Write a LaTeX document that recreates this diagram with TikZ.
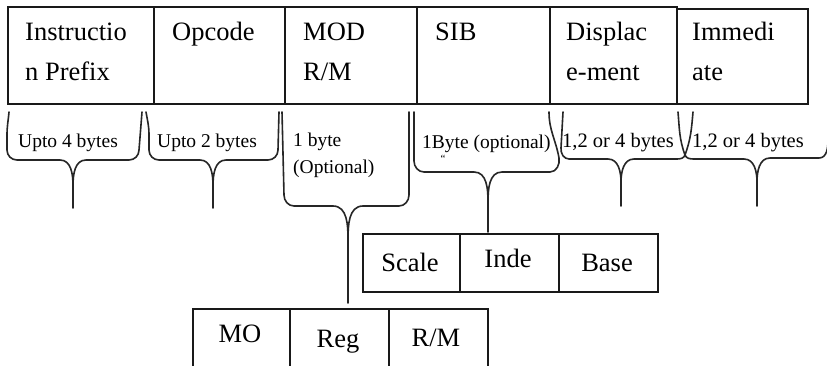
\documentclass[tikz,border=0pt]{standalone}
\usepackage{fontspec}
\setmainfont{Liberation Serif}
\begin{document}
\begin{tikzpicture}[x=1pt,y=-1pt,
  cell/.style={draw=black!90,line width=1.6pt,anchor=north west,inner sep=0pt,minimum height=#1},
  big/.style={font=\fontsize{26.5}{30}\selectfont,anchor=base west,inner sep=0pt},
  bigc/.style={font=\fontsize{26.5}{30}\selectfont,anchor=base,inner sep=0pt},
  small/.style={font=\fontsize{19.5}{22}\selectfont,anchor=base west,inner sep=0pt},
  brace/.style={draw=black!85,line width=1.6pt,line join=round,line cap=round}]
\path[use as bounding box] (0,0) rectangle (827,365);
\clip (0,0) rectangle (827,365);
\fill[white] (0,0) rectangle (827,365);

% top row
\node[cell=97pt,minimum width=146pt] (c1) at (7,6) {};
\node[cell=97pt,minimum width=131pt] (c2) at (153,6) {};
\node[cell=97pt,minimum width=132pt] (c3) at (284,6) {};
\node[cell=97pt,minimum width=133pt] (c4) at (416,6) {};
\node[cell=97pt,minimum width=127pt] (c5) at (549,6) {};
\node[cell=95pt,minimum width=131pt] (c6) at (676,8) {};

\node[big] (t1a) at (25,40) {Instructio};
\node[big] (t1b) at (25,80) {n Prefix};
\node[big] (t2) at (172,40) {Opcode};
\node[big] (t3a) at (303,40) {MOD};
\node[big] (t3b) at (303,80) {R/M};
\node[big] (t4) at (435,40) {SIB};
\node[big] (t5a) at (566,40) {Displac};
\node[big] (t5b) at (566,80) {e-ment};
\node[big] (t6a) at (692,40) {Immedi};
\node[big] (t6b) at (692,80) {ate};

% braces
% 1
\draw[brace] (9,112) to[out=-95,in=90] (7,135) -- (7,150) to[out=-90,in=180] (17,160) -- (60,160) to[out=0,in=90] (73,186) -- (73,208);
\draw[brace] (142,112) -- (139,150) to[out=-90,in=0] (129,160) -- (86,160) to[out=180,in=90] (73,186);
% 2
\draw[brace] (146,112) to[out=-80,in=90] (149,135) -- (149,150) to[out=-90,in=180] (159,160) -- (200,160) to[out=0,in=90] (213,186) -- (213,208);
\draw[brace] (279,112) -- (278,150) to[out=-90,in=0] (268,160) -- (226,160) to[out=180,in=90] (213,186);
% 3 MOD
\draw[brace] (282,112) -- (284,195) to[out=-90,in=180] (294,206) -- (333,206) to[out=0,in=90] (348,240) -- (348,303);
\draw[brace] (409,112) -- (409,195) to[out=-90,in=0] (399,206) -- (363,206) to[out=180,in=90] (348,240);
% 4 SIB
\draw[brace] (414,112) -- (414,161) to[out=-90,in=180] (424,172) -- (474,172) to[out=0,in=90] (488,202) -- (488,232);
\draw[brace] (549,112) to[out=-90,in=100] (559,158) to[out=-80,in=0] (550,172) -- (502,172) to[out=180,in=90] (488,202);
% 5 Displacement
\draw[brace] (563,112) -- (561,148) to[out=-95,in=180] (569,159) -- (608,159) to[out=0,in=90] (621,182) -- (621,206);
\draw[brace] (678,112) to[out=-85,in=110] (685,155) to[out=-110,in=0] (677,159) -- (634,159) to[out=180,in=90] (621,182);
% 6 Immediate
\draw[brace] (693,112) to[out=-95,in=70] (685,155) to[out=-70,in=180] (694,159) -- (744,159) to[out=0,in=90] (757,182) -- (757,206);
\draw[brace] (830,112) -- (828,140) to[out=-90,in=0] (819,158) -- (770,158) to[out=180,in=90] (757,182);

% brace labels
\node[small] (l1) at (18,147) {Upto 4 bytes};
\node[small] (l2) at (157,147) {Upto 2 bytes};
\node[small] (l3a) at (293,146) {1 byte};
\node[small] (l3b) at (293,173) {(Optional)};
\node[small] (l4) at (422,148) {1Byte (optional)};
\node[font=\fontsize{11}{11}\selectfont,inner sep=0pt] (l4m) at (443,159) {``};
\node[small,font=\fontsize{20.5}{22}\selectfont] (l5) at (562,147) {1,2 or 4 bytes};
\node[small,font=\fontsize{20.5}{22}\selectfont] (l6) at (692,147) {1,2 or 4 bytes};

% SIB detail row
\node[cell=58pt,minimum width=97pt] (s1) at (362,233) {};
\node[cell=58pt,minimum width=99pt] (s2) at (459,233) {};
\node[cell=58pt,minimum width=99pt] (s3) at (558,233) {};
\node[bigc] (ts1) at (410,271) {Scale};
\node[bigc] (ts2) at (508,267) {Inde};
\node[bigc] (ts3) at (607,271) {Base};

% MOD R/M detail row
\node[cell=80pt,minimum width=97pt] (m1) at (192,308) {};
\node[cell=80pt,minimum width=99pt] (m2) at (289,308) {};
\node[cell=80pt,minimum width=99pt] (m3) at (388,308) {};
\node[bigc] (tm1) at (240,342) {MO};
\node[bigc] (tm2) at (338,347) {Reg};
\node[bigc] (tm3) at (436,346) {R/M};
\end{tikzpicture}
\end{document}
